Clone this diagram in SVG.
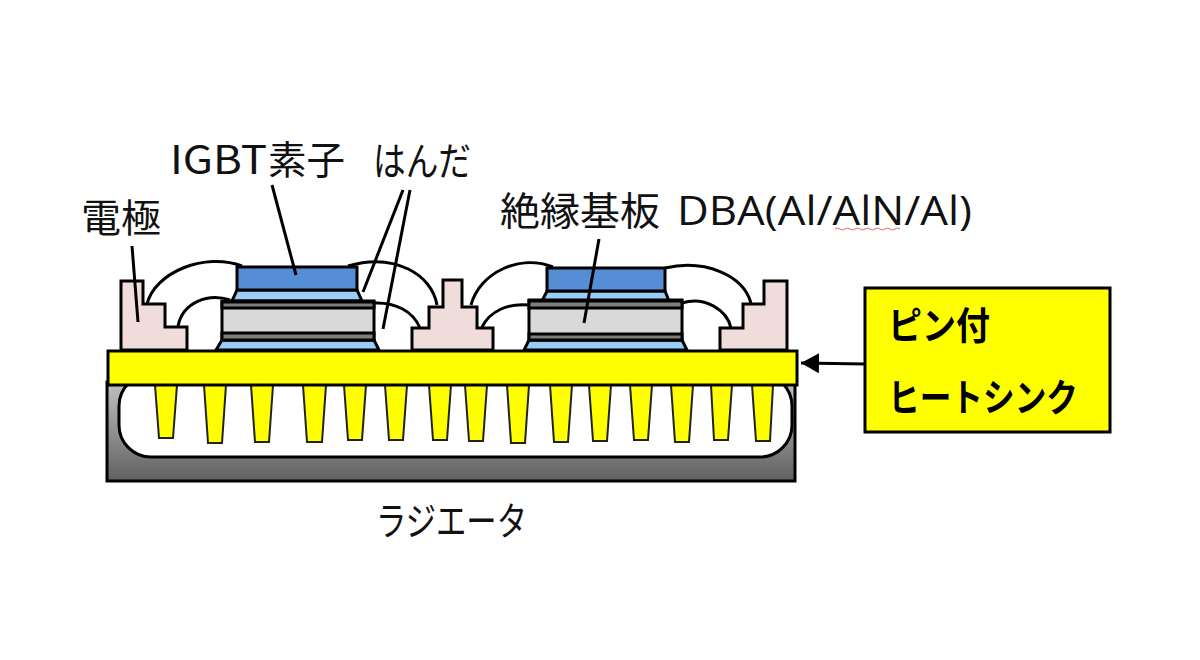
<svg xmlns="http://www.w3.org/2000/svg" width="1200" height="660" viewBox="0 0 1200 660">
<style>
text{font-family:"Noto Sans CJK JP","Noto Sans",sans-serif;font-size:39px;fill:#111}
.b{font-weight:700;font-size:38px;fill:#000}
.s{stroke:#000;stroke-width:3}
.elec{fill:#f0dcda;stroke:#000;stroke-width:3}
.dk{fill:#558ed5;stroke:#000;stroke-width:3}
.lb{fill:#99ccf7;stroke:#000;stroke-width:3}
.dba{fill:#d9d9d9;stroke:#000;stroke-width:3}
.st{fill:#7f7f7f;stroke:#000;stroke-width:3}
.pin{fill:#ff0;stroke:#222;stroke-width:2}
.wire{fill:none;stroke:#000;stroke-width:3}
.lead{stroke:#000;stroke-width:3;fill:none}
</style>
<defs>
<linearGradient id="g" x1="0" y1="0" x2="0" y2="1"><stop offset="0" stop-color="#c0c0c0"/><stop offset="1" stop-color="#606060"/></linearGradient>
<marker id="ah" markerUnits="userSpaceOnUse" markerWidth="20" markerHeight="20" refX="18" refY="10" orient="auto"><path d="M0 0L18 10L0 20Z" fill="#000"/></marker>
</defs>
<rect width="1200" height="660" fill="#fff"/>
<g id="radiator">
<rect x="107" y="382" width="688" height="99" fill="url(#g)" class="s"/>
<rect x="119" y="374" width="673" height="83" rx="32" fill="#fff" class="s"/>
</g>
<g id="pins">
<path class="pin" d="M155 385H177L173 438H159Z"/>
<path class="pin" d="M204 385H226L222 443H208Z"/>
<path class="pin" d="M251 385H273L269 442H255Z"/>
<path class="pin" d="M303 385H326L322 442H307Z"/>
<path class="pin" d="M344 385H366L362 440H348Z"/>
<path class="pin" d="M385 385H407L403 440H389Z"/>
<path class="pin" d="M429 385H451L447 440H433Z"/>
<path class="pin" d="M465 385H487L483 441H469Z"/>
<path class="pin" d="M507 385H529L525 443H511Z"/>
<path class="pin" d="M550 385H572L568 442H554Z"/>
<path class="pin" d="M589 385H611L607 441H593Z"/>
<path class="pin" d="M630 385H652L648 440H634Z"/>
<path class="pin" d="M671 385H693L689 442H675Z"/>
<path class="pin" d="M711 385H732L728 440H714Z"/>
<path class="pin" d="M752 385H773L770 441H756Z"/>
</g>
<g id="plate"><rect x="108" y="351" width="689" height="34" fill="#ff0" class="s"/></g>
<g id="electrodes">
<path class="elec" d="M121 350V281H143V304H165V327H187V350Z"/>
<path class="elec" d="M412 350V328H429V307H443V280H462V307H477V328H493V350Z"/>
<path class="elec" d="M720 350V328H743V304H764V281H787V350Z"/>
</g>
<g id="module1">
<path class="lb" d="M222 340H374L379 350H216Z"/>
<path class="lb" d="M237 290H357L362 301H232Z"/>
<rect class="dba" x="222" y="301" width="152" height="39"/>
<rect class="st" x="222" y="302" width="152" height="6"/>
<rect class="st" x="222" y="333" width="152" height="7"/>
<rect class="dk" x="237" y="267" width="120" height="23"/>
</g>
<g id="module2">
<path class="lb" d="M529 340H682L687 350H524Z"/>
<path class="lb" d="M547 291H665L669 301H542Z"/>
<rect class="dba" x="529" y="300" width="153" height="40"/>
<rect class="st" x="529" y="301" width="153" height="7"/>
<rect class="st" x="529" y="334" width="153" height="6"/>
<rect class="dk" x="547" y="268" width="118" height="23"/>
</g>
<g id="connectors">
<path class="wire" d="M147 304C155 272 205 252 242 266"/>
<path class="wire" d="M178 326C183 302 208 293 230 300"/>
<path class="wire" d="M348 266C395 252 432 275 437 305"/>
<path class="wire" d="M374 303C395 302 413 311 420 328"/>
<path class="wire" d="M471 305C480 272 520 254 553 267"/>
<path class="wire" d="M482 327C490 311 508 303 529 305"/>
<path class="wire" d="M665 268C705 259 743 275 751 303"/>
<path class="wire" d="M682 303C705 296 727 310 731 328"/>
<path class="lead" d="M132 246L138 322"/>
<path class="lead" d="M272 185L296 275"/>
<path class="lead" d="M403 190L363 292"/>
<path class="lead" d="M410 190L383 329"/>
<path class="lead" d="M599 239L584 323"/>
<path class="lead" d="M865 364L801 363" marker-end="url(#ah)"/>
<path d="M835 229q2.500 -2 5 0t5 0t5 0t5 0t5 0t5 0t5 0t5 0t5 0t5 0t5 0t5 0t5 0" fill="none" stroke="#d96a6a" stroke-width="1"/>
</g>
<g id="box">
<rect x="865" y="288" width="245" height="144" fill="#ff0" class="s"/>
<text class="b" x="888" y="339" textLength="102" lengthAdjust="spacingAndGlyphs">ピン付</text>
<text class="b" x="888" y="411" textLength="190" lengthAdjust="spacingAndGlyphs">ヒートシンク</text>
</g>
<g id="labels">
<text x="170" y="174" textLength="97" lengthAdjust="spacingAndGlyphs">IGBT</text>
<text x="268" y="174" textLength="77" lengthAdjust="spacingAndGlyphs">素子</text>
<text x="373" y="175" textLength="98" lengthAdjust="spacingAndGlyphs">はんだ</text>
<text x="81" y="232" textLength="80" lengthAdjust="spacingAndGlyphs">電極</text>
<text x="500" y="225" textLength="160" lengthAdjust="spacingAndGlyphs">絶縁基板</text>
<text x="677" y="225" style="font-family:'Open Sans','Noto Sans',sans-serif;font-size:41px" textLength="295" lengthAdjust="spacingAndGlyphs">DBA(Al/AlN/Al)</text>
<text x="376" y="535" textLength="151" lengthAdjust="spacingAndGlyphs">ラジエータ</text>
</g>
</svg>
